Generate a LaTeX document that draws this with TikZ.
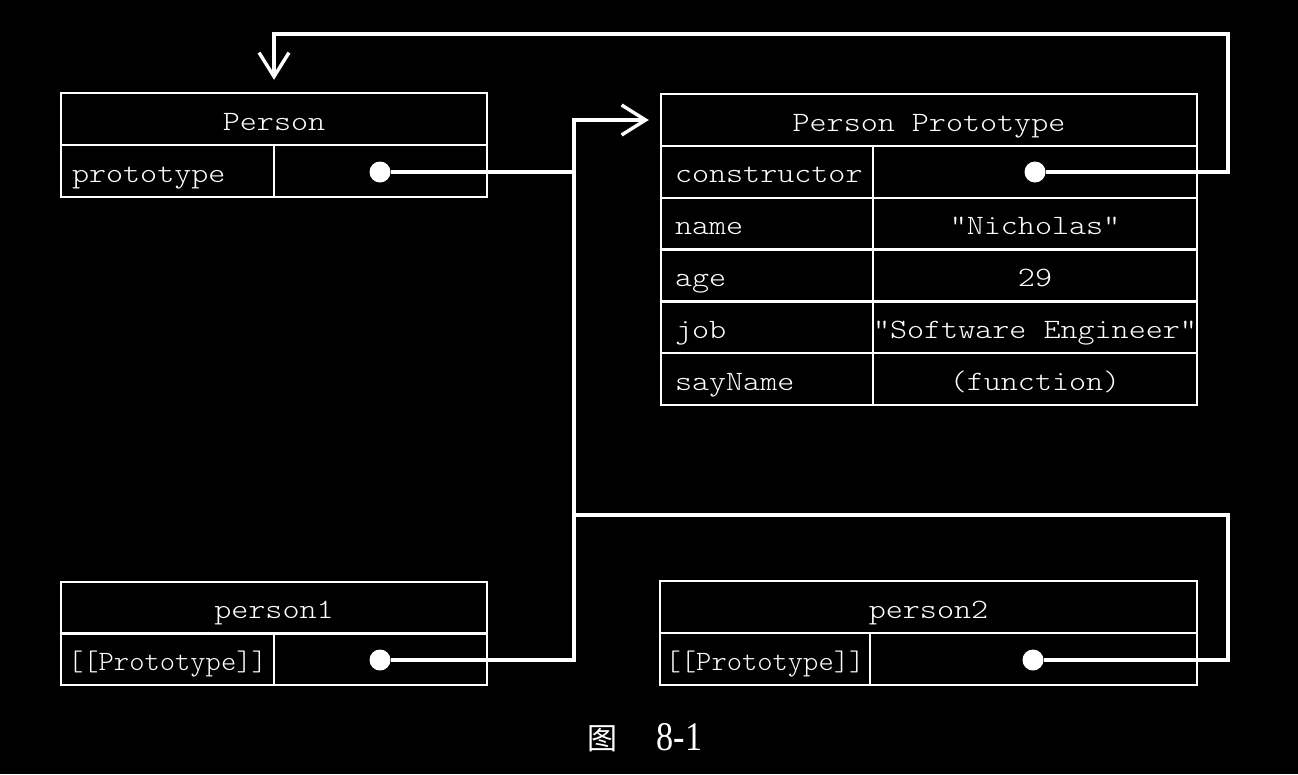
\documentclass[tikz,border=0pt]{standalone}
\usepackage{fontspec}
\usetikzlibrary{arrows.meta}
% light typewriter face for the object tables, widened to a Courier-like advance
\newfontfamily\codefont[FakeStretch=1.16]{lmmonolt10-regular.otf}
\newfontfamily\codefontnarrow[FakeStretch=1.04]{lmmonolt10-regular.otf}
\newfontfamily\capfont[FakeStretch=0.84]{Liberation Serif}
\newfontfamily\cjkfont{Noto Sans CJK SC}
\begin{document}
\begin{tikzpicture}[x=1pt,y=-1pt,
  cell/.style 2 args={draw=white, line width=2.4pt, rectangle, inner sep=0pt,
    minimum width=#1, minimum height=#2, text=white,
    font=\codefont\fontsize{28}{30}\selectfont, text height=22pt, text depth=0pt},
  keycell/.style={align=left},
  narrow/.style={font=\codefontnarrow\fontsize{28}{30}\selectfont},
  ptr/.style={circle, fill=white, inner sep=0pt, minimum size=21pt},
  link/.style={draw=white, line width=3.4pt},
  tip/.style={-{Straight Barb[length=24pt,width=30pt]}}]

\fill[black] (0,0) rectangle (1298,774);
\useasboundingbox (0,0) rectangle (1298,774);

% Person
\node[cell={426pt}{52pt}] (person) at (274,119) {Person};
\node[cell={213pt}{52pt}, keycell, text width=191pt, inner xsep=11pt] (person-key) at (167.5,171) {prototype};
\node[cell={213pt}{52pt}] (person-val) at (380.5,171) {};

% Person Prototype
\node[cell={536pt}{52pt}] (proto) at (929,120) {Person Prototype};
\node[cell={212pt}{51.8pt}, keycell, text width=184pt, inner xsep=14pt] (k-ctor) at (767,171.9) {constructor};
\node[cell={324pt}{51.8pt}] (v-ctor) at (1035,171.9) {};
\node[cell={212pt}{51.8pt}, keycell, text width=184pt, inner xsep=14pt] (k-name) at (767,223.7) {name};
\node[cell={324pt}{51.8pt}] (v-name) at (1035,223.7) {"Nicholas"};
\node[cell={212pt}{51.8pt}, keycell, text width=184pt, inner xsep=14pt] (k-age) at (767,275.5) {age};
\node[cell={324pt}{51.8pt}] (v-age) at (1035,275.5) {29};
\node[cell={212pt}{51.8pt}, keycell, text width=184pt, inner xsep=14pt] (k-job) at (767,327.3) {job};
\node[cell={324pt}{51.8pt}] (v-job) at (1035,327.3) {"Software Engineer"};
\node[cell={212pt}{51.8pt}, keycell, text width=184pt, inner xsep=14pt] (k-say) at (767,379.1) {sayName};
\node[cell={324pt}{51.8pt}] (v-say) at (1035,379.1) {(function)};

% person1
\node[cell={426pt}{51.5pt}] (p1) at (274,607.75) {person1};
\node[cell={213pt}{51.5pt}, narrow] (p1-key) at (167.5,659.25) {[[Prototype]]};
\node[cell={213pt}{51.5pt}] (p1-val) at (380.5,659.25) {};

% person2
\node[cell={537pt}{52pt}] (p2) at (928.5,607) {person2};
\node[cell={210pt}{52pt}, narrow] (p2-key) at (765,659) {[[Prototype]]};
\node[cell={327pt}{52pt}] (p2-val) at (1033.5,659) {};

% pointer dots
\node[ptr] (person-ptr) at (380,172) {};
\node[ptr] (ctor-ptr) at (1035,172) {};
\node[ptr] (p1-ptr) at (380,660) {};
\node[ptr] (p2-ptr) at (1033,660) {};

% routing points
\coordinate (bus) at (574,120);
\coordinate (ret) at (1228,34);
\coordinate (p2hook) at (1228,515);

% links
\draw[link, tip] (person-ptr) -| (bus) -- ([xshift=-11pt]proto.west);
\draw[link] (p1-ptr) -| (bus);
\draw[link] (p2-ptr) -| (p2hook) -- (p2hook -| bus);
\draw[link, tip] (ctor-ptr) -| (ret) -| ([yshift=12pt]person.north);

% caption
\node[font=\cjkfont\fontsize{30}{30}\selectfont, text=white, anchor=base, inner sep=0pt] (fig-label) at (602.5,749) {图};
\node[font=\capfont\fontsize{40.7}{41}\selectfont, text=white, anchor=base, inner sep=0pt] (fig-num) at (679.5,750.7) {8-1};
\end{tikzpicture}
\end{document}
